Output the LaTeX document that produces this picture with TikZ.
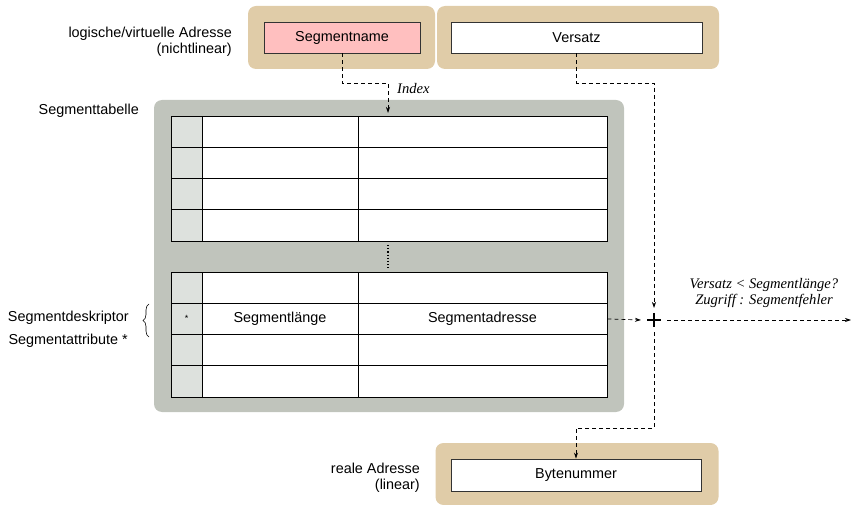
\documentclass[tikz,border=0pt]{standalone}
\usepackage{fontspec}
\setmainfont{Liberation Sans}
\newfontfamily\labfont{Liberation Serif}
\usetikzlibrary{arrows.meta,decorations.pathreplacing}
\definecolor{tan}{HTML}{E0CCA8}
\definecolor{panel}{HTML}{C0C4BC}
\definecolor{lightcell}{HTML}{DDE1DD}
\definecolor{pinkbox}{HTML}{FFBFBF}
\tikzset{
  every node/.style={font=\fontsize{14.4}{16.5}\selectfont, inner sep=0pt},
  tanbox/.style={fill=tan, rounded corners=8pt, draw=none},
  fieldbox/.style={draw=black!80, line width=0.9pt, fill=white},
  cellbox/.style={draw=black, line width=0.8pt, fill=white, minimum height=31.25pt},
  attrcell/.style={cellbox, fill=lightcell, minimum width=31pt},
  lencell/.style={cellbox, minimum width=156pt},
  addrcell/.style={cellbox, minimum width=249pt},
  flow/.style={dashed, dash pattern=on 4pt off 3pt, line width=0.7pt, -{Stealth[length=6pt,width=4pt]}},
  lab/.style={font=\labfont\itshape\fontsize{14.6}{16}\selectfont},
}
\begin{document}
\begin{tikzpicture}[x=1pt,y=-1pt]
\useasboundingbox (0,0) rectangle (852,505);
% top address
\node[tanbox, minimum width=187pt, minimum height=63pt] (tanA) at (341.5,37.5) {};
\node[tanbox, minimum width=282pt, minimum height=63pt] (tanB) at (578,37.5) {};
\node[fieldbox, fill=pinkbox, minimum width=156pt, minimum height=31pt] (sname) at (342,37.5) {Segmentname};
\node[fieldbox, minimum width=251pt, minimum height=31pt] (versatz) at (576.5,37.5) {Versatz};
\node[anchor=east, align=right] (logaddr) at (232,42) {logische/virtuelle Adresse\\(nichtlinear)};
% table panel
\node[fill=panel, rounded corners=8pt, minimum width=470pt, minimum height=312pt] (panel) at (389,256) {};
\node[anchor=east] (stab) at (139,111) {Segmenttabelle};
\foreach \i/\y in {1/131.6,2/162.9,3/194.1,4/225.4,5/287.6,6/318.9,7/350.1,8/381.4}{
  \node[attrcell] (a\i) at (186.5,\y) {};
  \node[lencell] (l\i) at (280,\y) {};
  \node[addrcell] (d\i) at (482.5,\y) {};
}
\node at (a6) {\fontsize{9}{10}\selectfont *};
\node at (l6) {Segmentlänge};
\node at (d6) {Segmentadresse};
\draw[dotted, line width=1.2pt] (388,245) -- (388,268);
% left labels
\node[anchor=east] (sdesk) at (129,318) {Segmentdeskriptor};
\node[anchor=east] (sattr) at (128,341) {Segmentattribute *};
\draw[decorate, decoration={brace, amplitude=6pt}, line width=0.6pt] (149,337) -- (149,304);
% plus
\coordinate (plus) at (654,320);
\draw[line width=1.8pt] (647,320) -- (661,320) (654,313) -- (654,327);
\coordinate (plusN) at (654,308);
\coordinate (plusW) at (641,320);
\coordinate (plusE) at (667,320);
\coordinate (plusS) at (654,332);
\coordinate (tabtop) at (388,113);
\coordinate (outR) at (851,320);
\node[lab, align=center] (cond) at (764,293) {Versatz < Segmentlänge?\\Zugriff : Segmentfehler};
% bottom address
\node[tanbox, minimum width=283pt, minimum height=62pt] (tanC) at (577,474) {};
\node[fieldbox, minimum width=250pt, minimum height=32pt] (byte) at (576,475) {Bytenummer};
\node[anchor=east, align=right] (realaddr) at (420,478) {reale Adresse\\(linear)};
% connectors
\draw[flow] (sname.south) |- (388,83) -- (tabtop);
\node[lab, anchor=west] (index) at (397,89) {Index};
\draw[flow] (versatz.south) |- (654,83) -- (plusN);
\draw[flow] (d6.east) -- (plusW);
\draw[flow] (plusE) -- (outR);
\draw[flow] (plusS) |- (576,428) -- (byte.north);
\end{tikzpicture}
\end{document}
